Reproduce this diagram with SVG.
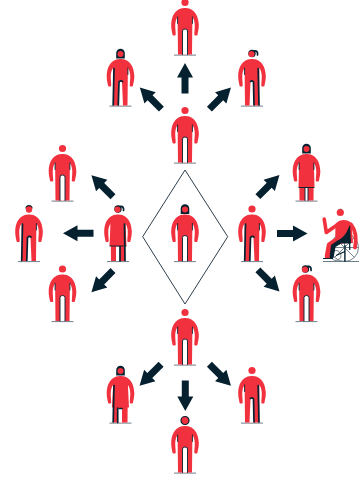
<svg xmlns="http://www.w3.org/2000/svg" width="364" height="482" viewBox="0 0 364 482">
<style>
.r{fill:#f1323e}.d{fill:#05202f}.w{fill:#fff}
.l{fill:none;stroke:#05202f;stroke-width:.9;stroke-linecap:round}
.t{fill:none;stroke:#05202f;stroke-width:1.7;stroke-linecap:round}
.g{stroke:#6f7f8a;stroke-width:1;fill:none}
.wh{fill:none;stroke:#56656f;stroke-width:.8}
.ra{fill:none;stroke:#f1323e;stroke-linecap:round;stroke-linejoin:round}
</style>
<defs>
<path id="arrow" class="d" d="M0-15.500 8-1H3.500V15H-3.500V-1H-8Z"/>
<g id="body">
<path class="g" d="M-11-.4H11"/>
<path class="r" d="M0-47.500C5-47.500 13-45 13.800-31C14-27 13-24 12.400-20.500Q11-19.500 9.300-20.500C9.300-25 10-28 9.700-31.500C9.500-34 8.800-36.500 7.400-38.500L7-1H-7L-7.400-38.500C-8.800-36.500-9.500-34-9.700-31.500C-10-28-9.300-25-9.300-20.500Q-11-19.500-12.400-20.500C-13-24-14-27-13.800-31C-13-45-5-47.500 0-47.500Z"/>
</g>
<g id="plain">
<use href="#body"/>
<path class="l" d="M7.400-38.500V-32M-7.400-38.500V-32"/>
<path class="w" d="M-2.500-1V-24.500Q-2.500-26.500 0-26.500T2.500-24.500V-1Z"/>
<path class="l" d="M-2.500-1V-24.500Q-2.500-26.500 0-26.500T2.500-24.500V-1"/>
</g>
<g id="shade">
<use href="#body"/>
<path class="t" d="M-6.500-38-7.300-1.500"/>
<path class="w" d="M-2-1V-24Q-.5-26 1.500-24.500L2.500-1Z"/>
<path class="t" d="M-2.200-1.500-1.500-24.500Q0-26.500 2-25"/>
<path class="l" d="M7.400-38.500V-32"/>
</g>
<g id="shadeB">
<use href="#body"/>
<path class="t" d="M6.200-38 7-1.500"/>
<path class="l" d="M-7.400-38.500V-32"/>
<path class="w" d="M-2.500-1-1.500-25Q0-26.500 1.500-25L2-1Z"/>
<path class="t" d="M2-1.500 1.500-24.500Q0-26.500-1.500-25"/>
</g>
<g id="dress">
<use href="#body"/>
<path class="r" d="M-7.400-38.500H7.400L8.500-16H-8.500Z"/>
<path class="w" d="M-2-1V-15.500H2V-1Z"/>
<path class="l" d="M-8-16H8"/>
<path class="t" d="M2-15.500V-1M6.500-38 7-1.500"/>
</g>
<g id="headRed"><circle class="r" cx="0" cy="-53" r="3.600"/></g>
<g id="headHair"><path class="d" d="M-4.300-48V-53.500A4.300 4.300 0 0 1 4.300-53.500V-48Z"/><circle class="r" cx="0" cy="-52.500" r="3"/></g>
<g id="headTop"><path class="d" d="M-3.600-53.500A3.600 3.600 0 0 1 3.600-53.500Z"/><circle class="r" cx="0" cy="-52.500" r="3.200"/></g>
<g id="headPony"><circle class="d" cx="0" cy="-53" r="3.700"/><circle class="r" cx="-.5" cy="-52.500" r="3.100"/><path class="t" d="M2-55.500C5-56 6-54 5.500-51.500" stroke-width="1.500"/></g>
</defs>

<g id="connectors">
<path d="M185 170 227.700 236.700 185 304 142.700 236.700Z" fill="none" stroke="#2f3f4c" stroke-width="1"/>
<use href="#arrow" transform="translate(185 78.500)"/>
<use href="#arrow" transform="translate(150.800 98.500) rotate(-45)"/>
<use href="#arrow" transform="translate(220 98.500) rotate(45)"/>
<use href="#arrow" transform="translate(102.400 186.200) rotate(-45)"/>
<use href="#arrow" transform="translate(78.500 233.300) rotate(-90)"/>
<use href="#arrow" transform="translate(102.400 281.200) rotate(-135)"/>
<use href="#arrow" transform="translate(268.500 186) rotate(45)"/>
<use href="#arrow" transform="translate(292 233.500) rotate(90)"/>
<use href="#arrow" transform="translate(268.500 280.500) rotate(135)"/>
<use href="#arrow" transform="translate(150.500 374.800) rotate(-135)"/>
<use href="#arrow" transform="translate(185.300 395.500) rotate(180)"/>
<use href="#arrow" transform="translate(220 374.800) rotate(135)"/>
</g>

<g id="n1" transform="translate(185 55.500)"><use href="#plain"/><use href="#headRed"/></g>
<g id="n2" transform="translate(120.500 106.500)"><use href="#shade"/><use href="#headHair"/></g>
<g id="n3" transform="translate(252 106.500)"><use href="#shadeB"/><use href="#headPony"/></g>
<g id="n4" transform="translate(185 163.500)"><use href="#plain"/><use href="#headRed"/></g>
<g id="n5" transform="translate(62.500 201.500)"><use href="#plain"/><use href="#headRed"/></g>
<g id="n6" transform="translate(29 262)"><use href="#shade"/><use href="#headTop"/></g>
<g id="n7" transform="translate(118 262)"><use href="#dress"/><use href="#headPony"/></g>
<g id="n8" transform="translate(62.500 322)"><use href="#plain"/><use href="#headRed"/></g>
<g id="n9" transform="translate(185 262)"><use href="#plain"/><use href="#headHair"/></g>
<g id="n10" transform="translate(252 262)"><use href="#shade"/><use href="#headRed"/></g>
<g id="n11" transform="translate(306.500 201.500)"><use href="#body"/><path class="r" d="M-7.400-38.500H7.400L8-14H-8Z"/><path class="w" d="M-1.500-1V-14H1.500V-1Z"/><path class="l" d="M-1.500-1V-14H1.500V-1M-7.500-14H7.500M-7.400-38.500V-32M7.400-38.500V-32"/><use href="#headHair"/></g>
<g id="n12">
<path class="g" d="M323 261.500H359"/>
<circle class="wh" cx="344.500" cy="247.500" r="14"/>
<path class="wh" d="M344.500 233.500V261.500M330.500 247.500H358.500M334.600 237.600 354.400 257.400M334.600 257.400 354.400 237.600"/>
<circle class="wh" cx="336" cy="255.500" r="5"/>
<path class="ra" stroke-width="3.600" d="M324.200 219 326.300 232.500 337 225"/>
<path class="ra" stroke-width="3.800" d="M351 224.500C355.500 230 356.800 238 355 247.500"/>
<path class="r" d="M335.500 224C339 219 347 218.500 351.500 223L353 243H343L335 246Z"/>
<path class="ra" stroke-width="5.500" d="M345 240.500H336L329.500 245 327.500 256"/>
<path class="d" d="M349.500 225 351 243.500H341L335.500 247 333.500 258H329.500L331 245 337.500 240.500C343 238.500 347 233 349.500 225Z"/>
<path d="M349.700 226V250M345 251.500 336 255.500M323 258.500H333M345 245V262" fill="none" stroke="#05202f" stroke-width="1.200"/>
<circle class="r" cx="340.300" cy="212.500" r="3.600"/>
<path class="d" d="M337.800 210A3.600 3.600 0 0 1 342.800 210A4 4 0 0 0 337.800 210Z"/>
</g>
<g id="n13" transform="translate(306.500 322)"><use href="#plain"/><use href="#headPony" transform="translate(-1 0)"/></g>
<g id="n14" transform="translate(185 365.500)"><use href="#plain"/><use href="#headRed"/></g>
<g id="n15" transform="translate(120.500 423.500)"><use href="#body"/><path class="r" d="M-7.400-38.500H7.400L8.500-16H-8.500Z"/><path class="w" d="M-2.500-1V-15.500H1.500V-1Z"/><path class="t" d="M-6.500-38-7.300-1.500M-2.800-15.500V-1M1.500-15H-1"/><use href="#headHair"/></g>
<g id="n16" transform="translate(252 423.500)"><use href="#shadeB"/><use href="#headRed"/></g>
<g id="n17" transform="translate(185 473.500)"><use href="#plain"/><circle cx="0" cy="-53" r="4" fill="#f1323e" stroke="#05202f" stroke-width="1.200"/></g>
</svg>
